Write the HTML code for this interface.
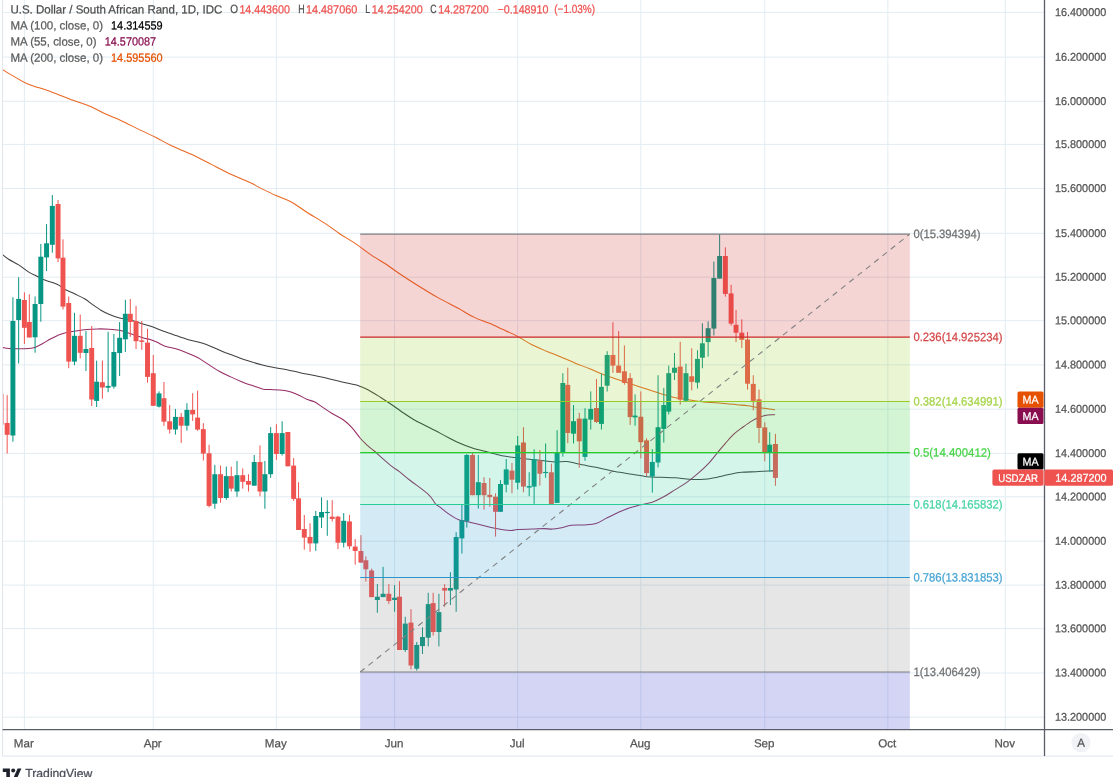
<!DOCTYPE html>
<html lang="en"><head><meta charset="utf-8"><title>USDZAR chart</title>
<style>html,body{margin:0;padding:0;background:#fff}body{width:1113px;height:777px;overflow:hidden}svg{display:block}text{font-family:"Liberation Sans",Arial,sans-serif;stroke-width:.25px}</style></head><body>
<svg width="1113" height="777" viewBox="0 0 1113 777">
<defs><clipPath id="pane"><rect x="3" y="0" width="1041.5" height="729.6"/></clipPath></defs>
<rect width="1113" height="777" fill="#fff"/>
<g stroke="#e1ecf2" stroke-width="1" fill="none">
<line x1="3" x2="1044.5" y1="12.4" y2="12.4"/>
<line x1="3" x2="1044.5" y1="57.1" y2="57.1"/>
<line x1="3" x2="1044.5" y1="101.3" y2="101.3"/>
<line x1="3" x2="1044.5" y1="144.4" y2="144.4"/>
<line x1="3" x2="1044.5" y1="188.5" y2="188.5"/>
<line x1="3" x2="1044.5" y1="233.3" y2="233.3"/>
<line x1="3" x2="1044.5" y1="277.2" y2="277.2"/>
<line x1="3" x2="1044.5" y1="320.7" y2="320.7"/>
<line x1="3" x2="1044.5" y1="364.9" y2="364.9"/>
<line x1="3" x2="1044.5" y1="409.2" y2="409.2"/>
<line x1="3" x2="1044.5" y1="453.4" y2="453.4"/>
<line x1="3" x2="1044.5" y1="496.8" y2="496.8"/>
<line x1="3" x2="1044.5" y1="541.2" y2="541.2"/>
<line x1="3" x2="1044.5" y1="585.1" y2="585.1"/>
<line x1="3" x2="1044.5" y1="628.6" y2="628.6"/>
<line x1="3" x2="1044.5" y1="673.0" y2="673.0"/>
<line x1="3" x2="1044.5" y1="717.2" y2="717.2"/>
<line x1="24.4" x2="24.4" y1="0" y2="729.6"/>
<line x1="153.27" x2="153.27" y1="0" y2="729.6"/>
<line x1="276.39" x2="276.39" y1="0" y2="729.6"/>
<line x1="394.58" x2="394.58" y1="0" y2="729.6"/>
<line x1="517.7" x2="517.7" y1="0" y2="729.6"/>
<line x1="640.82" x2="640.82" y1="0" y2="729.6"/>
<line x1="764.76" x2="764.76" y1="0" y2="729.6"/>
<line x1="887.88" x2="887.88" y1="0" y2="729.6"/>
<line x1="1005.26" x2="1005.26" y1="0" y2="729.6"/>
</g>
<line x1="2.5" x2="2.5" y1="0" y2="756.5" stroke="#e0e6ee" stroke-width="1"/>
<line x1="2" x2="1113" y1="756.1" y2="756.1" stroke="#e6eaf1" stroke-width="1.2"/>
<g clip-path="url(#pane)">
<path d="M2.9,254.8 C3.8,255.5 6.0,257.5 8.6,259.2 C11.2,260.9 15.3,262.8 18.7,264.9 C22.1,267.0 25.7,270.2 28.8,272.1 C31.9,274.0 34.9,275.2 37.5,276.5 C40.1,277.8 41.4,278.7 44.7,280 C48.1,281.3 54.2,282.8 57.6,284.4 C61.0,286.0 62.1,287.9 65,289.5 C67.9,291.1 71.6,292.4 74.9,294 C78.2,295.6 82.1,297.3 85,299 C87.9,300.7 89.5,302.5 92.2,304.4 C94.9,306.3 98.0,308.5 100.9,310.2 C103.8,311.9 106.4,313.2 109.5,314.5 C112.6,315.8 116.2,317.2 119.6,318.1 C123.0,319.0 126.6,319.1 129.7,319.8 C132.8,320.5 134.9,321.3 138.3,322.4 C141.7,323.4 146.1,324.8 150,326.1 C153.9,327.4 157.7,329.0 161.5,330.4 C165.3,331.8 168.7,332.9 173,334.4 C177.3,335.9 182.7,338.1 187.5,339.5 C192.3,340.9 197.6,341.7 201.9,343 C206.2,344.3 209.6,345.8 213.4,347.4 C217.2,349.0 221.1,350.8 224.9,352.4 C228.8,353.9 232.7,355.3 236.5,356.7 C240.3,358.1 243.7,359.4 248,360.8 C252.3,362.2 257.8,363.8 262.4,365 C267.0,366.2 271.3,367.0 275.4,367.8 C279.5,368.6 282.8,368.9 286.9,369.7 C291.0,370.5 295.4,371.7 300,372.7 C304.6,373.7 309.6,374.6 314.4,375.6 C319.2,376.6 324.0,377.6 328.8,378.7 C333.6,379.8 338.1,381.1 343.2,382.3 C348.2,383.5 354.8,384.5 359.1,385.9 C363.4,387.3 365.6,388.6 369.2,390.5 C372.8,392.4 376.9,395.1 380.7,397.5 C384.5,399.9 388.8,402.7 392.2,405 C395.6,407.3 397.0,408.6 400.9,411.2 C404.8,413.8 410.5,417.8 415.3,420.5 C420.1,423.2 425.6,425.6 429.7,427.7 C433.8,429.8 436.9,431.4 440,433.1 C443.1,434.8 445.5,436.1 448.6,437.7 C451.7,439.3 454.9,441.1 458.7,442.8 C462.5,444.5 466.9,446.2 471.7,447.8 C476.5,449.4 482.6,450.8 487.6,452.1 C492.7,453.4 497.4,454.8 502,455.7 C506.6,456.6 510.3,457.0 514.9,457.6 C519.4,458.2 524.5,458.8 529.3,459.3 C534.1,459.8 539.4,460.4 543.7,460.8 C548.0,461.2 551.4,461.8 555.3,461.9 C559.2,462.0 563.3,461.1 567.2,461.5 C571.1,461.9 573.9,463.1 578.7,464.1 C583.5,465.1 590.0,466.1 596,467.3 C602.0,468.6 608.8,470.5 614.8,471.6 C620.8,472.8 626.7,473.4 632,474.2 C637.3,475.0 641.7,476.2 646.5,476.7 C651.3,477.2 656.1,477.1 660.9,477.3 C665.7,477.5 670.5,477.5 675.3,477.8 C680.1,478.1 684.9,479.1 689.7,479.3 C694.5,479.6 700.3,479.5 704.1,479.3 C707.9,479.1 710.1,478.6 712.7,478.1 C715.4,477.7 717.1,477.2 720,476.6 C722.9,476.0 726.4,474.9 730,474.2 C733.6,473.5 737.3,472.7 741.6,472.3 C745.9,471.9 751.4,471.9 756,471.7 C760.6,471.5 765.8,471.0 769,470.9 C772.2,470.8 774.0,470.9 775,470.9" fill="none" stroke="#262626" stroke-width="1.05" stroke-opacity="0.88" stroke-linejoin="round" stroke-linecap="round"/>
<path d="M2.9,347.6 C3.8,347.7 6.0,348.2 8.6,348.4 C11.2,348.6 15.3,348.8 18.7,348.8 C22.1,348.8 25.9,348.7 28.8,348.4 C31.7,348.1 33.6,347.8 36,346.9 C38.4,346.0 40.8,344.6 43.2,343.3 C45.6,342.0 48.0,340.3 50.4,339 C52.8,337.7 55.2,336.4 57.6,335.4 C60.0,334.4 61.9,333.6 64.8,332.9 C67.7,332.2 71.3,331.7 74.9,331.1 C78.5,330.6 82.7,330.0 86.5,329.6 C90.3,329.2 94.2,329.0 98,328.9 C101.8,328.8 105.9,329.0 109.5,329.2 C113.1,329.4 116.7,329.8 119.6,330.3 C122.5,330.9 124.2,331.6 126.8,332.5 C129.4,333.4 132.5,334.4 135.4,335.4 C138.3,336.4 141.7,337.6 144.1,338.3 C146.5,339.0 147.8,338.8 150,339.5 C152.2,340.2 154.8,341.2 157.2,342.3 C159.6,343.4 161.3,344.8 164.4,345.9 C167.5,347.0 172.3,347.7 175.9,348.8 C179.5,349.9 182.4,350.9 186,352.4 C189.6,353.8 194.0,355.6 197.6,357.5 C201.2,359.4 204.0,361.6 207.6,363.9 C211.2,366.2 215.3,369.0 219.2,371.2 C223.0,373.4 226.9,375.1 230.7,376.9 C234.5,378.7 238.8,380.6 242.2,382 C245.6,383.4 247.5,384.0 250.9,385.1 C254.3,386.2 259.3,388.1 262.4,388.9 C265.5,389.6 266.7,389.4 269.6,389.6 C272.5,389.8 276.6,389.6 279.7,389.9 C282.8,390.2 285.7,390.6 288.3,391.3 C290.9,392.0 293.1,392.8 295.5,393.8 C297.9,394.8 300.8,396.1 302.7,397.1 C304.6,398.1 305.2,398.8 307.2,399.6 C309.1,400.4 311.8,400.5 314.4,401.8 C317.0,403.1 320.2,405.7 323.1,407.6 C326.0,409.5 328.4,411.3 331.7,413.3 C335.0,415.3 339.8,417.4 343.2,419.8 C346.6,422.2 349.0,424.6 351.9,427.7 C354.8,430.8 357.9,435.5 360.5,438.5 C363.1,441.5 365.3,443.5 367.7,445.7 C370.1,447.9 372.2,449.2 374.9,451.5 C377.5,453.8 380.7,456.9 383.6,459.4 C386.5,461.9 389.6,464.6 392.2,466.6 C394.8,468.7 396.5,469.5 399.4,471.7 C402.3,473.9 404.8,476.2 409.6,480 C414.4,483.8 424.0,490.4 428.3,494.4 C432.6,498.4 433.6,501.7 435.5,503.8 C437.4,505.9 437.8,505.5 440,507.2 C442.2,508.9 445.5,511.8 448.6,513.9 C451.7,516.0 455.3,518.4 458.7,519.7 C462.1,521.0 464.7,520.9 468.8,521.9 C472.9,522.9 478.4,524.4 483.2,525.5 C488.0,526.6 493.0,528.0 497.6,528.8 C502.2,529.6 507.2,530.4 510.6,530.5 C514.0,530.6 514.2,529.6 517.8,529.4 C521.4,529.2 527.9,529.2 532.2,529.1 C536.5,529.0 540.3,528.6 543.7,528.6 C547.1,528.6 549.7,529.2 552.4,529.1 C555.1,529.0 556.8,528.8 560,528.1 C563.2,527.5 567.4,525.7 571.5,525.2 C575.6,524.7 580.4,525.2 584.5,524.9 C588.6,524.6 592.4,524.6 596,523.5 C599.6,522.4 602.5,520.2 606.1,518.4 C609.7,516.6 613.8,514.5 617.6,512.7 C621.5,511.0 625.4,509.2 629.2,507.9 C633.1,506.6 636.9,505.8 640.7,504.8 C644.5,503.9 648.4,503.5 652.2,502.2 C656.0,500.9 659.9,498.9 663.7,496.8 C667.6,494.7 671.4,492.0 675.3,489.6 C679.1,487.2 683.0,485.1 686.8,482.4 C690.6,479.6 694.7,476.2 698.3,473.1 C701.9,470.0 705.0,467.2 708.4,463.6 C711.8,460.0 715.7,454.8 718.5,451.4 C721.3,448.0 722.8,446.2 725.4,443.3 C728.0,440.4 731.1,436.6 734.1,433.9 C737.1,431.2 740.1,429.2 743.1,427 C746.1,424.8 749.3,422.5 752,420.9 C754.7,419.3 756.6,418.3 759.2,417.3 C761.8,416.3 765.2,415.3 767.8,414.9 C770.4,414.5 773.6,414.7 774.7,414.7" fill="none" stroke="#880e4f" stroke-width="1.05" stroke-opacity="0.88" stroke-linejoin="round" stroke-linecap="round"/>
<path d="M3,70 C4.6,70.9 8.5,73.3 12.6,75.6 C16.7,77.9 21.4,81.3 27.7,83.9 C34.0,86.5 42.8,88.7 50.3,91.4 C57.8,94.1 66.3,97.8 73,100.3 C79.7,102.8 85.1,104.2 90.6,106.5 C96.0,108.8 100.7,111.8 105.7,114.1 C110.7,116.4 114.9,117.7 120.8,120.4 C126.7,123.1 135.0,127.6 140.9,130.4 C146.8,133.2 151.0,135.0 156,137.5 C161.0,140.0 165.1,142.7 171,145.5 C176.9,148.3 184.5,151.2 191.2,154.3 C197.9,157.5 204.6,161.0 211.3,164.4 C218.0,167.8 224.7,171.3 231.4,174.5 C238.1,177.7 246.8,181.1 251.6,183.3 C256.4,185.5 255.9,185.9 260,187.9 C264.1,189.9 270.6,193.1 275.9,195.5 C281.2,197.9 286.4,199.3 291.7,202.2 C297.0,205.1 302.0,209.1 307.6,212.7 C313.2,216.3 320.1,220.1 325.4,223.6 C330.7,227.1 334.4,230.2 339.3,233.5 C344.2,236.8 349.8,239.8 355.1,243.4 C360.4,247.0 365.7,251.3 371,254.9 C376.3,258.5 382.3,261.8 386.9,264.8 C391.5,267.9 393.5,269.7 398.8,273.2 C404.1,276.7 412.0,281.9 418.6,286 C425.2,290.1 431.8,294.2 438.4,297.9 C445.0,301.6 452.2,305.1 458.2,308.3 C464.2,311.6 469.3,314.9 474.4,317.4 C479.5,319.9 484.0,321.1 488.8,323.1 C493.6,325.1 498.4,327.4 503.2,329.6 C508.0,331.8 512.8,333.9 517.6,336.4 C522.4,338.9 527.2,342.3 532,344.8 C536.8,347.3 541.7,349.2 546.5,351.2 C551.3,353.2 556.1,355.0 560.9,357 C565.7,359.0 570.5,361.2 575.3,363.2 C580.1,365.2 585.1,366.9 589.7,368.8 C594.4,370.7 598.6,372.7 603.2,374.5 C607.9,376.3 612.8,377.9 617.6,379.5 C622.4,381.1 627.2,382.7 632,384.3 C636.8,385.9 641.7,387.4 646.5,389 C651.3,390.6 656.1,392.2 660.9,393.7 C665.7,395.1 670.5,396.7 675.3,397.7 C680.1,398.7 684.9,399.2 689.7,399.9 C694.5,400.6 699.2,401.5 704.1,402 C709.0,402.5 713.3,402.4 718.8,402.9 C724.3,403.3 732.2,404.2 737,404.7 C741.8,405.2 743.8,405.3 747.6,405.8 C751.4,406.3 755.5,407.2 760,407.8 C764.5,408.4 772.2,409.4 774.7,409.7" fill="none" stroke="#e65100" stroke-width="1.05" stroke-opacity="0.88" stroke-linejoin="round" stroke-linecap="round"/>
<rect x="-1.06" y="393.7" width="4.95" height="31" fill="#ef5350" opacity="0.55"/>
<rect x="6.66" y="395.1" width="1" height="58.4" fill="#ef5350"/><rect x="4.69" y="423.0" width="4.95" height="11.8" fill="#ef5350"/>
<rect x="12.41" y="297.2" width="1" height="144.5" fill="#089684"/><rect x="10.43" y="321.0" width="4.95" height="114.5" fill="#089684"/>
<rect x="18.15" y="277.2" width="1" height="86.3" fill="#089684"/><rect x="16.18" y="298.9" width="4.95" height="21.1" fill="#089684"/>
<rect x="23.90" y="292.3" width="1" height="51.7" fill="#ef5350"/><rect x="21.92" y="300.0" width="4.95" height="27.8" fill="#ef5350"/>
<rect x="28.82" y="294.3" width="1" height="43.2" fill="#ef5350"/><rect x="26.85" y="322.0" width="4.95" height="15.5" fill="#ef5350"/>
<rect x="34.57" y="296.5" width="1" height="56.2" fill="#089684"/><rect x="32.60" y="304.0" width="4.95" height="33.3" fill="#089684"/>
<rect x="40.32" y="244.0" width="1" height="77.7" fill="#089684"/><rect x="38.34" y="256.7" width="4.95" height="47.3" fill="#089684"/>
<rect x="46.06" y="224.1" width="1" height="46.9" fill="#089684"/><rect x="44.09" y="243.3" width="4.95" height="14.1" fill="#089684"/>
<rect x="51.81" y="195.0" width="1" height="57.7" fill="#089684"/><rect x="49.83" y="205.9" width="4.95" height="38.9" fill="#089684"/>
<rect x="57.55" y="200.1" width="1" height="61.9" fill="#ef5350"/><rect x="55.58" y="204.0" width="4.95" height="54.4" fill="#ef5350"/>
<rect x="62.48" y="239.3" width="1" height="70.2" fill="#ef5350"/><rect x="60.50" y="257.7" width="4.95" height="48.9" fill="#ef5350"/>
<rect x="68.22" y="296.5" width="1" height="71.7" fill="#ef5350"/><rect x="66.25" y="303.0" width="4.95" height="58.6" fill="#ef5350"/>
<rect x="73.97" y="312.8" width="1" height="52.4" fill="#089684"/><rect x="71.99" y="335.8" width="4.95" height="25.8" fill="#089684"/>
<rect x="79.71" y="314.5" width="1" height="43.9" fill="#ef5350"/><rect x="77.74" y="335.8" width="4.95" height="17.0" fill="#ef5350"/>
<rect x="85.46" y="331.0" width="1" height="40.0" fill="#089684"/><rect x="83.48" y="349.0" width="4.95" height="4.0" fill="#089684"/>
<rect x="91.21" y="326.0" width="1" height="80.0" fill="#ef5350"/><rect x="89.23" y="348.0" width="4.95" height="51.5" fill="#ef5350"/>
<rect x="96.13" y="360.6" width="1" height="46.4" fill="#089684"/><rect x="94.16" y="381.7" width="4.95" height="19.2" fill="#089684"/>
<rect x="101.88" y="360.6" width="1" height="38.1" fill="#ef5350"/><rect x="99.90" y="382.2" width="4.95" height="5.3" fill="#ef5350"/>
<rect x="107.62" y="331.8" width="1" height="60.4" fill="#089684"/><rect x="105.65" y="385.9" width="4.95" height="1.8" fill="#089684"/>
<rect x="113.37" y="334.0" width="1" height="54.6" fill="#089684"/><rect x="111.39" y="352.0" width="4.95" height="34.6" fill="#089684"/>
<rect x="119.11" y="322.0" width="1" height="54.0" fill="#089684"/><rect x="117.14" y="337.8" width="4.95" height="15.2" fill="#089684"/>
<rect x="124.86" y="299.8" width="1" height="52.2" fill="#089684"/><rect x="122.88" y="313.8" width="4.95" height="25.5" fill="#089684"/>
<rect x="129.78" y="299.0" width="1" height="37.8" fill="#ef5350"/><rect x="127.81" y="313.8" width="4.95" height="8.2" fill="#ef5350"/>
<rect x="135.53" y="305.9" width="1" height="43.1" fill="#ef5350"/><rect x="133.55" y="321.0" width="4.95" height="20.2" fill="#ef5350"/>
<rect x="141.27" y="321.0" width="1" height="28.8" fill="#ef5350"/><rect x="139.30" y="340.4" width="4.95" height="1.5" fill="#ef5350"/>
<rect x="147.02" y="328.9" width="1" height="53.8" fill="#ef5350"/><rect x="145.04" y="342.6" width="4.95" height="34.3" fill="#ef5350"/>
<rect x="152.77" y="355.0" width="1" height="51.0" fill="#ef5350"/><rect x="150.79" y="373.2" width="4.95" height="32.6" fill="#ef5350"/>
<rect x="158.51" y="391.4" width="1" height="16.1" fill="#089684"/><rect x="156.54" y="393.4" width="4.95" height="13.2" fill="#089684"/>
<rect x="163.44" y="382.0" width="1" height="43.9" fill="#ef5350"/><rect x="161.46" y="398.2" width="4.95" height="23.5" fill="#ef5350"/>
<rect x="169.18" y="405.0" width="1" height="28.6" fill="#ef5350"/><rect x="167.21" y="421.3" width="4.95" height="8.2" fill="#ef5350"/>
<rect x="174.93" y="408.9" width="1" height="25.7" fill="#089684"/><rect x="172.95" y="416.9" width="4.95" height="12.6" fill="#089684"/>
<rect x="180.67" y="413.0" width="1" height="29.9" fill="#ef5350"/><rect x="178.70" y="416.9" width="4.95" height="8.8" fill="#ef5350"/>
<rect x="186.42" y="403.2" width="1" height="27.4" fill="#089684"/><rect x="184.44" y="409.9" width="4.95" height="15.8" fill="#089684"/>
<rect x="192.16" y="393.2" width="1" height="27.7" fill="#ef5350"/><rect x="190.19" y="409.9" width="4.95" height="4.5" fill="#ef5350"/>
<rect x="197.09" y="390.6" width="1" height="40.1" fill="#ef5350"/><rect x="195.11" y="417.6" width="4.95" height="12.0" fill="#ef5350"/>
<rect x="202.83" y="423.2" width="1" height="37.3" fill="#ef5350"/><rect x="200.86" y="429.1" width="4.95" height="24.5" fill="#ef5350"/>
<rect x="208.58" y="444.7" width="1" height="62.6" fill="#ef5350"/><rect x="206.61" y="453.3" width="4.95" height="52.6" fill="#ef5350"/>
<rect x="214.33" y="464.8" width="1" height="44.0" fill="#089684"/><rect x="212.35" y="474.2" width="4.95" height="29.5" fill="#089684"/>
<rect x="220.07" y="465.6" width="1" height="37.1" fill="#ef5350"/><rect x="218.10" y="474.2" width="4.95" height="23.8" fill="#ef5350"/>
<rect x="225.82" y="466.6" width="1" height="33.1" fill="#089684"/><rect x="223.84" y="476.1" width="4.95" height="21.9" fill="#089684"/>
<rect x="230.74" y="466.6" width="1" height="24.9" fill="#ef5350"/><rect x="228.77" y="476.1" width="4.95" height="12.5" fill="#ef5350"/>
<rect x="236.49" y="461.0" width="1" height="35.8" fill="#089684"/><rect x="234.51" y="475.2" width="4.95" height="16.3" fill="#089684"/>
<rect x="242.23" y="468.4" width="1" height="20.2" fill="#ef5350"/><rect x="240.26" y="475.2" width="4.95" height="6.6" fill="#ef5350"/>
<rect x="247.98" y="474.2" width="1" height="17.3" fill="#ef5350"/><rect x="246.00" y="481.0" width="4.95" height="3.7" fill="#ef5350"/>
<rect x="253.72" y="455.0" width="1" height="30.7" fill="#089684"/><rect x="251.75" y="462.0" width="4.95" height="23.7" fill="#089684"/>
<rect x="259.47" y="445.4" width="1" height="50.9" fill="#ef5350"/><rect x="257.49" y="462.0" width="4.95" height="29.5" fill="#ef5350"/>
<rect x="264.39" y="461.0" width="1" height="47.8" fill="#089684"/><rect x="262.42" y="474.2" width="4.95" height="17.3" fill="#089684"/>
<rect x="270.14" y="427.1" width="1" height="50.7" fill="#089684"/><rect x="268.16" y="433.1" width="4.95" height="41.1" fill="#089684"/>
<rect x="275.89" y="424.2" width="1" height="35.6" fill="#ef5350"/><rect x="273.91" y="433.1" width="4.95" height="20.9" fill="#ef5350"/>
<rect x="281.63" y="421.3" width="1" height="34.2" fill="#089684"/><rect x="279.66" y="433.1" width="4.95" height="20.9" fill="#089684"/>
<rect x="287.38" y="432.0" width="1" height="34.3" fill="#ef5350"/><rect x="285.40" y="432.0" width="4.95" height="34.3" fill="#ef5350"/>
<rect x="293.12" y="458.1" width="1" height="42.7" fill="#ef5350"/><rect x="291.15" y="465.6" width="4.95" height="33.3" fill="#ef5350"/>
<rect x="298.05" y="482.2" width="1" height="47.8" fill="#ef5350"/><rect x="296.07" y="498.3" width="4.95" height="31.7" fill="#ef5350"/>
<rect x="303.79" y="515.0" width="1" height="34.6" fill="#ef5350"/><rect x="301.82" y="529.0" width="4.95" height="8.6" fill="#ef5350"/>
<rect x="309.54" y="523.2" width="1" height="28.6" fill="#ef5350"/><rect x="307.56" y="536.9" width="4.95" height="6.5" fill="#ef5350"/>
<rect x="315.28" y="511.0" width="1" height="39.9" fill="#089684"/><rect x="313.31" y="516.0" width="4.95" height="27.4" fill="#089684"/>
<rect x="321.03" y="497.3" width="1" height="30.7" fill="#089684"/><rect x="319.05" y="512.0" width="4.95" height="5.5" fill="#089684"/>
<rect x="326.78" y="500.2" width="1" height="35.6" fill="#089684"/><rect x="324.80" y="511.9" width="4.95" height="1.2" fill="#089684"/>
<rect x="331.70" y="500.2" width="1" height="21.2" fill="#ef5350"/><rect x="329.72" y="516.7" width="4.95" height="2.2" fill="#ef5350"/>
<rect x="337.45" y="515.7" width="1" height="33.5" fill="#ef5350"/><rect x="335.47" y="516.7" width="4.95" height="26.0" fill="#ef5350"/>
<rect x="343.19" y="513.1" width="1" height="34.3" fill="#089684"/><rect x="341.22" y="520.8" width="4.95" height="21.9" fill="#089684"/>
<rect x="348.94" y="514.9" width="1" height="34.3" fill="#ef5350"/><rect x="346.96" y="521.4" width="4.95" height="24.9" fill="#ef5350"/>
<rect x="354.68" y="539.1" width="1" height="25.5" fill="#ef5350"/><rect x="352.71" y="546.6" width="4.95" height="4.4" fill="#ef5350"/>
<rect x="360.43" y="535.2" width="1" height="27.4" fill="#ef5350"/><rect x="358.45" y="551.0" width="4.95" height="11.6" fill="#ef5350"/>
<rect x="365.35" y="556.4" width="1" height="25.2" fill="#ef5350"/><rect x="363.38" y="560.3" width="4.95" height="9.0" fill="#ef5350"/>
<rect x="371.10" y="568.6" width="1" height="28.5" fill="#ef5350"/><rect x="369.12" y="570.5" width="4.95" height="26.6" fill="#ef5350"/>
<rect x="376.84" y="584.1" width="1" height="28.7" fill="#089684"/><rect x="374.87" y="596.7" width="4.95" height="3.3" fill="#089684"/>
<rect x="382.59" y="566.9" width="1" height="30.2" fill="#089684"/><rect x="380.61" y="593.8" width="4.95" height="3.3" fill="#089684"/>
<rect x="388.34" y="584.1" width="1" height="19.8" fill="#ef5350"/><rect x="386.36" y="593.8" width="4.95" height="7.2" fill="#ef5350"/>
<rect x="394.08" y="585.1" width="1" height="26.7" fill="#089684"/><rect x="392.11" y="597.7" width="4.95" height="2.3" fill="#089684"/>
<rect x="399.01" y="581.2" width="1" height="68.8" fill="#ef5350"/><rect x="397.03" y="596.7" width="4.95" height="53.3" fill="#ef5350"/>
<rect x="404.75" y="616.8" width="1" height="35.0" fill="#089684"/><rect x="402.78" y="623.6" width="4.95" height="26.4" fill="#089684"/>
<rect x="410.50" y="609.2" width="1" height="60.2" fill="#ef5350"/><rect x="408.52" y="622.6" width="4.95" height="42.9" fill="#ef5350"/>
<rect x="416.24" y="642.0" width="1" height="28.6" fill="#089684"/><rect x="414.27" y="644.9" width="4.95" height="23.8" fill="#089684"/>
<rect x="421.99" y="627.3" width="1" height="26.7" fill="#089684"/><rect x="420.01" y="637.0" width="4.95" height="9.1" fill="#089684"/>
<rect x="427.73" y="592.8" width="1" height="53.6" fill="#089684"/><rect x="425.76" y="604.1" width="4.95" height="33.6" fill="#089684"/>
<rect x="432.66" y="592.8" width="1" height="42.8" fill="#ef5350"/><rect x="430.68" y="603.1" width="4.95" height="28.9" fill="#ef5350"/>
<rect x="438.40" y="593.8" width="1" height="52.6" fill="#089684"/><rect x="436.43" y="612.1" width="4.95" height="19.9" fill="#089684"/>
<rect x="444.15" y="584.1" width="1" height="22.6" fill="#ef5350"/><rect x="442.17" y="588.0" width="4.95" height="2.6" fill="#ef5350"/>
<rect x="449.90" y="572.2" width="1" height="32.8" fill="#089684"/><rect x="447.92" y="588.0" width="4.95" height="2.6" fill="#089684"/>
<rect x="455.64" y="532.2" width="1" height="79.6" fill="#089684"/><rect x="453.67" y="537.0" width="4.95" height="52.5" fill="#089684"/>
<rect x="461.39" y="504.6" width="1" height="49.0" fill="#089684"/><rect x="459.41" y="520.4" width="4.95" height="18.0" fill="#089684"/>
<rect x="466.31" y="454.0" width="1" height="73.6" fill="#089684"/><rect x="464.34" y="455.0" width="4.95" height="66.2" fill="#089684"/>
<rect x="472.06" y="452.9" width="1" height="42.3" fill="#ef5350"/><rect x="470.08" y="455.0" width="4.95" height="40.2" fill="#ef5350"/>
<rect x="477.80" y="455.0" width="1" height="53.6" fill="#089684"/><rect x="475.83" y="482.2" width="4.95" height="13.0" fill="#089684"/>
<rect x="483.55" y="477.2" width="1" height="32.4" fill="#ef5350"/><rect x="481.57" y="483.0" width="4.95" height="12.2" fill="#ef5350"/>
<rect x="489.29" y="477.9" width="1" height="28.8" fill="#ef5350"/><rect x="487.32" y="494.8" width="4.95" height="2.3" fill="#ef5350"/>
<rect x="495.04" y="493.3" width="1" height="43.3" fill="#ef5350"/><rect x="493.06" y="496.7" width="4.95" height="15.1" fill="#ef5350"/>
<rect x="499.96" y="480.1" width="1" height="31.7" fill="#089684"/><rect x="497.99" y="484.0" width="4.95" height="27.8" fill="#089684"/>
<rect x="505.71" y="459.0" width="1" height="33.3" fill="#089684"/><rect x="503.73" y="469.4" width="4.95" height="15.3" fill="#089684"/>
<rect x="511.46" y="462.9" width="1" height="30.4" fill="#ef5350"/><rect x="509.48" y="470.6" width="4.95" height="9.1" fill="#ef5350"/>
<rect x="517.20" y="436.0" width="1" height="53.5" fill="#089684"/><rect x="515.23" y="445.4" width="4.95" height="37.3" fill="#089684"/>
<rect x="522.95" y="427.2" width="1" height="65.1" fill="#ef5350"/><rect x="520.97" y="442.5" width="4.95" height="44.1" fill="#ef5350"/>
<rect x="528.69" y="472.2" width="1" height="24.0" fill="#089684"/><rect x="526.72" y="486.1" width="4.95" height="1.5" fill="#089684"/>
<rect x="533.62" y="449.3" width="1" height="54.6" fill="#089684"/><rect x="531.64" y="459.3" width="4.95" height="27.3" fill="#089684"/>
<rect x="539.36" y="450.0" width="1" height="35.6" fill="#ef5350"/><rect x="537.39" y="460.5" width="4.95" height="13.2" fill="#ef5350"/>
<rect x="545.11" y="443.5" width="1" height="34.3" fill="#089684"/><rect x="543.13" y="471.9" width="4.95" height="1.2" fill="#089684"/>
<rect x="550.85" y="463.7" width="1" height="40.4" fill="#ef5350"/><rect x="548.88" y="472.3" width="4.95" height="31.8" fill="#ef5350"/>
<rect x="556.60" y="430.2" width="1" height="72.7" fill="#089684"/><rect x="554.62" y="452.4" width="4.95" height="50.5" fill="#089684"/>
<rect x="562.34" y="373.2" width="1" height="83.5" fill="#089684"/><rect x="560.37" y="383.0" width="4.95" height="69.4" fill="#089684"/>
<rect x="567.27" y="367.7" width="1" height="75.5" fill="#ef5350"/><rect x="565.29" y="384.9" width="4.95" height="48.1" fill="#ef5350"/>
<rect x="573.02" y="405.0" width="1" height="38.5" fill="#089684"/><rect x="571.04" y="421.2" width="4.95" height="12.5" fill="#089684"/>
<rect x="578.76" y="412.8" width="1" height="54.9" fill="#ef5350"/><rect x="576.79" y="418.6" width="4.95" height="22.7" fill="#ef5350"/>
<rect x="584.51" y="408.2" width="1" height="52.6" fill="#089684"/><rect x="582.53" y="418.6" width="4.95" height="38.3" fill="#089684"/>
<rect x="590.25" y="391.4" width="1" height="38.1" fill="#089684"/><rect x="588.28" y="408.9" width="4.95" height="10.7" fill="#089684"/>
<rect x="596.00" y="379.0" width="1" height="43.9" fill="#ef5350"/><rect x="594.02" y="408.0" width="4.95" height="14.0" fill="#ef5350"/>
<rect x="600.92" y="373.5" width="1" height="56.1" fill="#089684"/><rect x="598.95" y="386.9" width="4.95" height="37.0" fill="#089684"/>
<rect x="606.67" y="351.2" width="1" height="40.3" fill="#089684"/><rect x="604.69" y="355.0" width="4.95" height="30.7" fill="#089684"/>
<rect x="612.41" y="322.3" width="1" height="50.5" fill="#ef5350"/><rect x="610.44" y="355.0" width="4.95" height="10.6" fill="#ef5350"/>
<rect x="618.16" y="331.0" width="1" height="41.8" fill="#ef5350"/><rect x="616.18" y="365.6" width="4.95" height="7.2" fill="#ef5350"/>
<rect x="623.90" y="345.4" width="1" height="39.3" fill="#ef5350"/><rect x="621.93" y="371.3" width="4.95" height="11.6" fill="#ef5350"/>
<rect x="629.65" y="373.2" width="1" height="51.7" fill="#ef5350"/><rect x="627.68" y="378.1" width="4.95" height="39.0" fill="#ef5350"/>
<rect x="634.58" y="394.4" width="1" height="31.3" fill="#089684"/><rect x="632.60" y="415.6" width="4.95" height="1.8" fill="#089684"/>
<rect x="640.32" y="391.4" width="1" height="67.0" fill="#ef5350"/><rect x="638.35" y="416.7" width="4.95" height="25.5" fill="#ef5350"/>
<rect x="646.07" y="438.3" width="1" height="37.7" fill="#ef5350"/><rect x="644.09" y="440.4" width="4.95" height="32.7" fill="#ef5350"/>
<rect x="651.81" y="449.1" width="1" height="43.5" fill="#089684"/><rect x="649.84" y="462.0" width="4.95" height="14.5" fill="#089684"/>
<rect x="657.56" y="375.2" width="1" height="92.2" fill="#089684"/><rect x="655.58" y="427.2" width="4.95" height="35.3" fill="#089684"/>
<rect x="663.30" y="387.9" width="1" height="54.7" fill="#089684"/><rect x="661.33" y="405.1" width="4.95" height="23.8" fill="#089684"/>
<rect x="668.23" y="365.6" width="1" height="48.9" fill="#089684"/><rect x="666.25" y="373.2" width="4.95" height="38.4" fill="#089684"/>
<rect x="673.97" y="353.0" width="1" height="27.0" fill="#089684"/><rect x="672.00" y="367.7" width="4.95" height="5.1" fill="#089684"/>
<rect x="679.72" y="341.8" width="1" height="62.8" fill="#ef5350"/><rect x="677.74" y="366.6" width="4.95" height="33.1" fill="#ef5350"/>
<rect x="685.46" y="363.7" width="1" height="37.1" fill="#089684"/><rect x="683.49" y="373.2" width="4.95" height="27.6" fill="#089684"/>
<rect x="691.21" y="348.3" width="1" height="42.0" fill="#ef5350"/><rect x="689.24" y="376.3" width="4.95" height="5.6" fill="#ef5350"/>
<rect x="696.96" y="350.2" width="1" height="38.3" fill="#089684"/><rect x="694.98" y="358.9" width="4.95" height="23.7" fill="#089684"/>
<rect x="701.88" y="323.3" width="1" height="45.0" fill="#089684"/><rect x="699.91" y="343.3" width="4.95" height="14.4" fill="#089684"/>
<rect x="707.63" y="321.4" width="1" height="35.2" fill="#089684"/><rect x="705.65" y="328.2" width="4.95" height="13.9" fill="#089684"/>
<rect x="713.37" y="261.7" width="1" height="73.8" fill="#089684"/><rect x="711.40" y="278.0" width="4.95" height="50.6" fill="#089684"/>
<rect x="719.12" y="234.1" width="1" height="44.5" fill="#089684"/><rect x="717.14" y="256.0" width="4.95" height="22.6" fill="#089684"/>
<rect x="724.86" y="247.3" width="1" height="49.3" fill="#ef5350"/><rect x="722.89" y="256.0" width="4.95" height="37.9" fill="#ef5350"/>
<rect x="730.61" y="284.8" width="1" height="40.7" fill="#ef5350"/><rect x="728.63" y="293.4" width="4.95" height="30.2" fill="#ef5350"/>
<rect x="735.53" y="310.0" width="1" height="32.1" fill="#ef5350"/><rect x="733.56" y="324.8" width="4.95" height="7.9" fill="#ef5350"/>
<rect x="741.28" y="319.3" width="1" height="28.6" fill="#ef5350"/><rect x="739.30" y="332.7" width="4.95" height="7.1" fill="#ef5350"/>
<rect x="747.02" y="332.0" width="1" height="57.6" fill="#ef5350"/><rect x="745.05" y="339.5" width="4.95" height="44.2" fill="#ef5350"/>
<rect x="752.77" y="375.2" width="1" height="35.1" fill="#ef5350"/><rect x="750.80" y="383.9" width="4.95" height="17.0" fill="#ef5350"/>
<rect x="758.52" y="389.6" width="1" height="53.4" fill="#ef5350"/><rect x="756.54" y="399.3" width="4.95" height="28.6" fill="#ef5350"/>
<rect x="764.26" y="422.4" width="1" height="38.9" fill="#ef5350"/><rect x="762.29" y="427.4" width="4.95" height="24.9" fill="#ef5350"/>
<rect x="769.19" y="432.2" width="1" height="39.2" fill="#089684"/><rect x="767.21" y="444.7" width="4.95" height="7.6" fill="#089684"/>
<rect x="774.93" y="433.9" width="1" height="51.9" fill="#ef5350"/><rect x="772.96" y="444.0" width="4.95" height="33.9" fill="#ef5350"/>
<rect x="360.2" y="234.1" width="549.5999999999999" height="103.0" fill="rgba(204,40,40,0.2)"/>
<rect x="360.2" y="337.1" width="549.5999999999999" height="64.4" fill="rgba(149,204,40,0.2)"/>
<rect x="360.2" y="401.5" width="549.5999999999999" height="51.1" fill="rgba(40,204,40,0.2)"/>
<rect x="360.2" y="452.6" width="549.5999999999999" height="51.9" fill="rgba(40,204,149,0.2)"/>
<rect x="360.2" y="504.5" width="549.5999999999999" height="73.0" fill="rgba(40,149,204,0.2)"/>
<rect x="360.2" y="577.5" width="549.5999999999999" height="94.5" fill="rgba(128,128,128,0.2)"/>
<rect x="360.2" y="672" width="549.5999999999999" height="57.60000000000002" fill="rgba(40,40,204,0.2)"/>
<line x1="360.2" y1="672" x2="909.8" y2="234.1" stroke="rgb(128,128,128)" stroke-width="1.1" stroke-dasharray="5.6 5.0"/>
<line x1="360.2" x2="909.8" y1="234.1" y2="234.1" stroke="rgb(128,128,128)" stroke-width="1.2"/>
<line x1="360.2" x2="909.8" y1="337.1" y2="337.1" stroke="rgb(204,40,40)" stroke-width="1.2"/>
<line x1="360.2" x2="909.8" y1="401.5" y2="401.5" stroke="rgb(149,204,40)" stroke-width="1.2"/>
<line x1="360.2" x2="909.8" y1="452.6" y2="452.6" stroke="rgb(40,204,40)" stroke-width="1.2"/>
<line x1="360.2" x2="909.8" y1="504.5" y2="504.5" stroke="rgb(40,204,149)" stroke-width="1.2"/>
<line x1="360.2" x2="909.8" y1="577.5" y2="577.5" stroke="rgb(40,149,204)" stroke-width="1.2"/>
<line x1="360.2" x2="909.8" y1="672.0" y2="672.0" stroke="rgb(128,128,128)" stroke-width="1.2"/>
</g>
<text transform="translate(913.4,238.1) rotate(0.03) scale(0.9312,1)" font-size="12.1" fill="rgb(112,112,112)" stroke="rgb(112,112,112)">0(15.394394)</text>
<text transform="translate(913.4,341.1) rotate(0.03) scale(0.9343,1)" font-size="12.1" fill="rgb(204,40,40)" stroke="rgb(204,40,40)" opacity="0.86">0.236(14.925234)</text>
<text transform="translate(913.4,405.5) rotate(0.03) scale(0.9343,1)" font-size="12.1" fill="rgb(149,204,40)" stroke="rgb(149,204,40)" opacity="0.86">0.382(14.634991)</text>
<text transform="translate(913.4,456.6) rotate(0.03) scale(0.9451,1)" font-size="12.1" fill="rgb(40,204,40)" stroke="rgb(40,204,40)" opacity="0.86">0.5(14.400412)</text>
<text transform="translate(913.4,508.5) rotate(0.03) scale(0.9343,1)" font-size="12.1" fill="rgb(40,204,149)" stroke="rgb(40,204,149)" opacity="0.86">0.618(14.165832)</text>
<text transform="translate(913.4,581.5) rotate(0.03) scale(0.9343,1)" font-size="12.1" fill="rgb(40,149,204)" stroke="rgb(40,149,204)" opacity="0.86">0.786(13.831853)</text>
<text transform="translate(913.4,676.0) rotate(0.03) scale(0.9312,1)" font-size="12.1" fill="rgb(112,112,112)" stroke="rgb(112,112,112)">1(13.406429)</text>
<line x1="1044.5" x2="1044.5" y1="0" y2="756" stroke="#5a5d68" stroke-width="1.3"/>
<line x1="2.5" x2="1113" y1="729.6" y2="729.6" stroke="#5a5d68" stroke-width="1.3"/>
<text transform="translate(1055,16.0) rotate(0.03) scale(0.9594,1)" font-size="11.3" fill="#555" stroke="#555">16.400000</text>
<text transform="translate(1055,60.7) rotate(0.03) scale(0.9594,1)" font-size="11.3" fill="#555" stroke="#555">16.200000</text>
<text transform="translate(1055,104.9) rotate(0.03) scale(0.9594,1)" font-size="11.3" fill="#555" stroke="#555">16.000000</text>
<text transform="translate(1055,148.0) rotate(0.03) scale(0.9594,1)" font-size="11.3" fill="#555" stroke="#555">15.800000</text>
<text transform="translate(1055,192.1) rotate(0.03) scale(0.9594,1)" font-size="11.3" fill="#555" stroke="#555">15.600000</text>
<text transform="translate(1055,236.9) rotate(0.03) scale(0.9594,1)" font-size="11.3" fill="#555" stroke="#555">15.400000</text>
<text transform="translate(1055,280.8) rotate(0.03) scale(0.9594,1)" font-size="11.3" fill="#555" stroke="#555">15.200000</text>
<text transform="translate(1055,324.3) rotate(0.03) scale(0.9594,1)" font-size="11.3" fill="#555" stroke="#555">15.000000</text>
<text transform="translate(1055,368.5) rotate(0.03) scale(0.9594,1)" font-size="11.3" fill="#555" stroke="#555">14.800000</text>
<text transform="translate(1055,412.8) rotate(0.03) scale(0.9594,1)" font-size="11.3" fill="#555" stroke="#555">14.600000</text>
<text transform="translate(1055,457.0) rotate(0.03) scale(0.9594,1)" font-size="11.3" fill="#555" stroke="#555">14.400000</text>
<text transform="translate(1055,500.4) rotate(0.03) scale(0.9594,1)" font-size="11.3" fill="#555" stroke="#555">14.200000</text>
<text transform="translate(1055,544.8) rotate(0.03) scale(0.9594,1)" font-size="11.3" fill="#555" stroke="#555">14.000000</text>
<text transform="translate(1055,588.7) rotate(0.03) scale(0.9594,1)" font-size="11.3" fill="#555" stroke="#555">13.800000</text>
<text transform="translate(1055,632.2) rotate(0.03) scale(0.9594,1)" font-size="11.3" fill="#555" stroke="#555">13.600000</text>
<text transform="translate(1055,676.6) rotate(0.03) scale(0.9594,1)" font-size="11.3" fill="#555" stroke="#555">13.400000</text>
<text transform="translate(1055,720.8) rotate(0.03) scale(0.9594,1)" font-size="11.3" fill="#555" stroke="#555">13.200000</text>
<text transform="translate(23.8,747.2) rotate(0.03) scale(1.0000,1)" font-size="11.6" fill="#555" stroke="#555" text-anchor="middle">Mar</text>
<text transform="translate(152.7,747.2) rotate(0.03) scale(1.0000,1)" font-size="11.6" fill="#555" stroke="#555" text-anchor="middle">Apr</text>
<text transform="translate(275.8,747.2) rotate(0.03) scale(1.0000,1)" font-size="11.6" fill="#555" stroke="#555" text-anchor="middle">May</text>
<text transform="translate(394.0,747.2) rotate(0.03) scale(1.0000,1)" font-size="11.6" fill="#555" stroke="#555" text-anchor="middle">Jun</text>
<text transform="translate(517.1,747.2) rotate(0.03) scale(1.0000,1)" font-size="11.6" fill="#555" stroke="#555" text-anchor="middle">Jul</text>
<text transform="translate(640.2,747.2) rotate(0.03) scale(1.0000,1)" font-size="11.6" fill="#555" stroke="#555" text-anchor="middle">Aug</text>
<text transform="translate(764.2,747.2) rotate(0.03) scale(1.0000,1)" font-size="11.6" fill="#555" stroke="#555" text-anchor="middle">Sep</text>
<text transform="translate(887.3,747.2) rotate(0.03) scale(1.0000,1)" font-size="11.6" fill="#555" stroke="#555" text-anchor="middle">Oct</text>
<text transform="translate(1004.7,747.2) rotate(0.03) scale(1.0000,1)" font-size="11.6" fill="#555" stroke="#555" text-anchor="middle">Nov</text>
<circle cx="1081" cy="742.6" r="9.6" fill="#f1f2f6"/>
<text transform="translate(1081,746.7) rotate(0.03) scale(1.0000,1)" font-size="11.6" fill="#555" stroke="#555" text-anchor="middle">A</text>
<rect x="1017.5" y="391.5" width="26" height="16.3" rx="1.5" fill="#e65100"/>
<text transform="translate(1022.5,403.6) rotate(0.03) scale(0.9534,1)" font-size="11.2" fill="#fff" stroke="#fff">MA</text>
<rect x="1017.5" y="407.8" width="26" height="16.2" rx="1.5" fill="#880e4f"/>
<text transform="translate(1022.5,419.9) rotate(0.03) scale(0.9534,1)" font-size="11.2" fill="#fff" stroke="#fff">MA</text>
<rect x="1017.5" y="453.3" width="26" height="16.1" rx="1.5" fill="#000"/>
<text transform="translate(1022.5,465.4) rotate(0.03) scale(0.9534,1)" font-size="11.2" fill="#fff" stroke="#fff">MA</text>
<rect x="992.4" y="469.6" width="51" height="16.2" rx="2" fill="#ef5350"/>
<rect x="1044.2" y="469.6" width="69" height="16.2" rx="2" fill="#ef5350"/>
<rect x="1043.4" y="469.6" width="1" height="16.2" fill="#f5908e"/>
<text transform="translate(998.2,481.8) rotate(0.03) scale(0.8559,1)" font-size="11.3" fill="#fff" stroke="#fff">USDZAR</text>
<text transform="translate(1055.3,481.8) rotate(0.03) scale(0.9618,1)" font-size="11.3" fill="#fff" stroke="#fff">14.287200</text>
<text transform="translate(10.4,13.4) rotate(0.03) scale(0.9691,1)" font-size="11.9" fill="#4f4f4f" stroke="#4f4f4f">U.S. Dollar / South African Rand, 1D, IDC</text>
<text transform="translate(230.2,13.4) rotate(0.03) scale(0.8421,1)" font-size="11.9" fill="#4f4f4f" stroke="#4f4f4f">O</text>
<text transform="translate(239.4,13.4) rotate(0.03) scale(0.8974,1)" font-size="11.9" fill="#ef5350" stroke="#ef5350">14.443600</text>
<text transform="translate(298.2,13.4) rotate(0.03) scale(0.7445,1)" font-size="11.9" fill="#4f4f4f" stroke="#4f4f4f">H</text>
<text transform="translate(305.9,13.4) rotate(0.03) scale(0.9144,1)" font-size="11.9" fill="#ef5350" stroke="#ef5350">14.487060</text>
<text transform="translate(365.2,13.4) rotate(0.03) scale(0.7394,1)" font-size="11.9" fill="#4f4f4f" stroke="#4f4f4f">L</text>
<text transform="translate(371.8,13.4) rotate(0.03) scale(0.9054,1)" font-size="11.9" fill="#ef5350" stroke="#ef5350">14.254200</text>
<text transform="translate(430.3,13.4) rotate(0.03) scale(0.7445,1)" font-size="11.9" fill="#4f4f4f" stroke="#4f4f4f">C</text>
<text transform="translate(438.2,13.4) rotate(0.03) scale(0.8991,1)" font-size="11.9" fill="#ef5350" stroke="#ef5350">14.287200</text>
<text transform="translate(497.5,13.4) rotate(0.03) scale(0.9001,1)" font-size="11.9" fill="#ef5350" stroke="#ef5350">−0.148910</text>
<text transform="translate(554.3,13.4) rotate(0.03) scale(0.8396,1)" font-size="11.9" fill="#ef5350" stroke="#ef5350">(−1.03%)</text>
<text transform="translate(10.4,29.5) rotate(0.03) scale(0.9668,1)" font-size="11.9" fill="#5d5d5d" stroke="#5d5d5d">MA (100, close, 0)</text>
<text transform="translate(111,29.5) rotate(0.03) scale(0.9190,1)" font-size="11.9" fill="#000" stroke="#000">14.314559</text>
<text transform="translate(10.4,45.6) rotate(0.03) scale(0.9645,1)" font-size="11.9" fill="#5d5d5d" stroke="#5d5d5d">MA (55, close, 0)</text>
<text transform="translate(104.8,45.6) rotate(0.03) scale(0.9106,1)" font-size="11.9" fill="#880e4f" stroke="#880e4f">14.570087</text>
<text transform="translate(10.4,61.8) rotate(0.03) scale(0.9668,1)" font-size="11.9" fill="#5d5d5d" stroke="#5d5d5d">MA (200, close, 0)</text>
<text transform="translate(111,61.8) rotate(0.03) scale(0.9190,1)" font-size="11.9" fill="#e65100" stroke="#e65100">14.595560</text>
<g fill="#1e222d"><path d="M2.8 768.4H9.9V777H6.3V771.9H2.8Z"/><circle cx="13.2" cy="770.4" r="2.0"/><path d="M17.6 768.4H21.4L17.6 777H13.8Z"/></g>
<text transform="translate(25.3,777.6) rotate(0.03) scale(0.9826,1)" font-size="12.4" fill="#4a4d59" stroke="#4a4d59">TradingView</text>
</svg></body></html>
